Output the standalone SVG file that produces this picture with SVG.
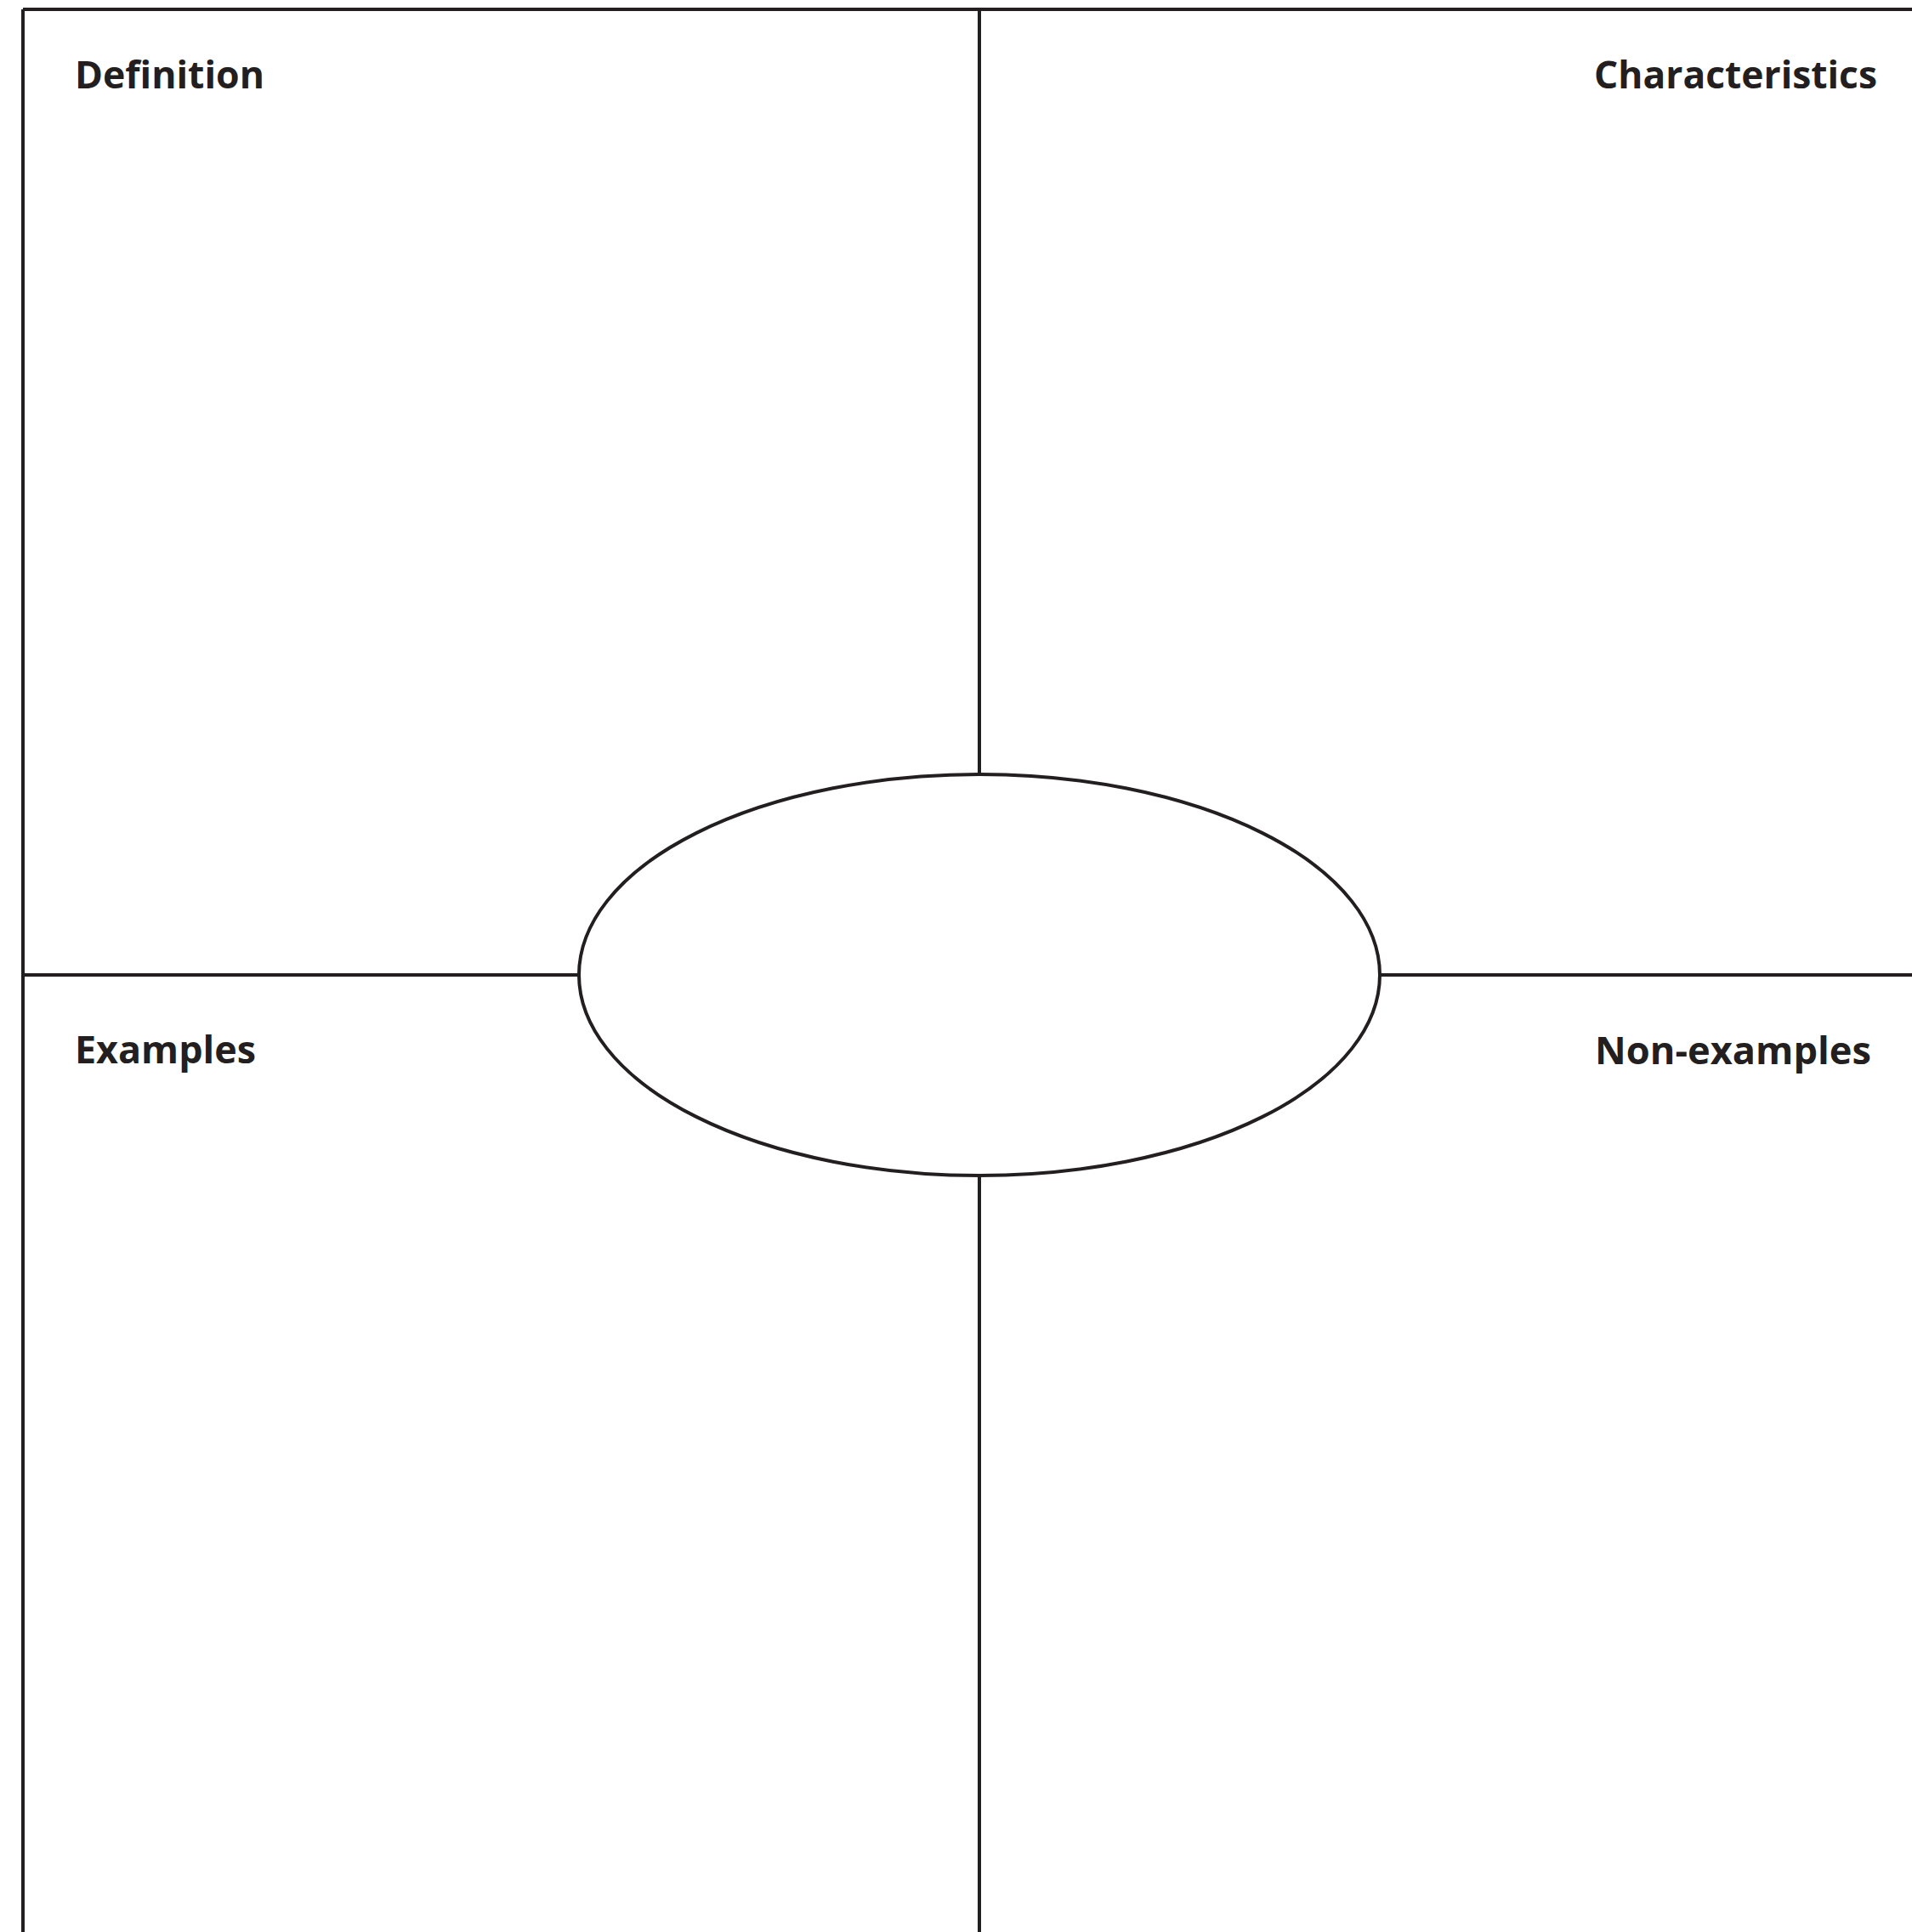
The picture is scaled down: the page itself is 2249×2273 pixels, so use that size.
<svg xmlns="http://www.w3.org/2000/svg" width="2249" height="2273" viewBox="0 0 2249 2273">
<style>
.ln{stroke:#231f20;stroke-width:4;fill:none}
.lbl{font-family:"Open Sans","Noto Sans",sans-serif;font-weight:bold;font-size:45px;fill:#231f20}
</style>
<rect x="0" y="0" width="2249" height="2273" fill="#ffffff"/>
<g id="connectors">
<line class="ln" x1="27" y1="11" x2="2249" y2="11"/>
<line class="ln" x1="27" y1="11" x2="27" y2="2273"/>
<line class="ln" x1="1152" y1="11" x2="1152" y2="911"/>
<line class="ln" x1="1152" y1="1383" x2="1152" y2="2273"/>
<line class="ln" x1="27" y1="1147" x2="681" y2="1147"/>
<line class="ln" x1="1623" y1="1147" x2="2249" y2="1147"/>
</g>
<g id="center">
<ellipse class="ln" cx="1152" cy="1147" rx="471" ry="236"/>
</g>
<g id="definition"><text class="lbl" x="88" y="104" textLength="223" lengthAdjust="spacingAndGlyphs">Definition</text></g>
<g id="characteristics"><text class="lbl" x="1875" y="104" textLength="333" lengthAdjust="spacingAndGlyphs">Characteristics</text></g>
<g id="examples"><text class="lbl" x="88" y="1251" textLength="213" lengthAdjust="spacingAndGlyphs">Examples</text></g>
<g id="non-examples"><text class="lbl" x="1876" y="1252" textLength="325" lengthAdjust="spacingAndGlyphs">Non-examples</text></g>
</svg>
